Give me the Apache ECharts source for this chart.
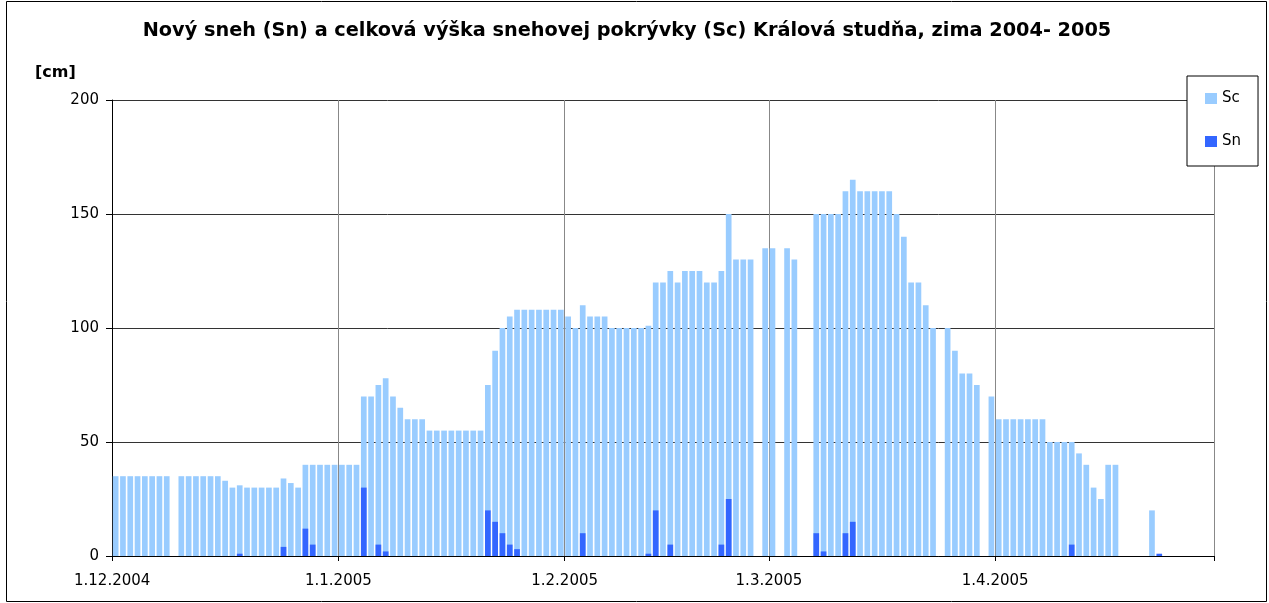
<!DOCTYPE html>
<html>
<head>
<meta charset="utf-8">
<script src="https://cdn.jsdelivr.net/npm/echarts@6/dist/echarts.min.js"></script>
<style>
html,body{margin:0;padding:0;background:#fff;}
#chart{width:1269px;height:603px;}
</style>
</head>
<body>
<div id="chart"></div>
<script>
// Months covered (day counts) and tick labels
const monthDefs = [
  {m: 12, y: 2004, days: 31},
  {m: 1, y: 2005, days: 31},
  {m: 2, y: 2005, days: 28},
  {m: 3, y: 2005, days: 31},
  {m: 4, y: 2005, days: 30}
];
const tickLabels = ['1.12.2004', '1.1.2005', '1.2.2005', '1.3.2005', '1.4.2005'];

// Sc - total snow depth [cm], per day
const scDec = [35,35,35,35,35,35,35,35,null,35,35,35,35,35,35,33,30,31,30,30,30,30,30,34,32,30,40,40,40,40,40];
const scJan = [40,40,40,70,70,75,78,70,65,60,60,60,55,55,55,55,55,55,55,55,75,90,100,105,108,108,108,108,108,108,108];
const scFeb = [105,100,110,105,105,105,100,100,100,100,100,101,120,120,125,120,125,125,125,120,120,125,150,130,130,130,null,135];
const scMar = [135,null,135,130,null,null,150,150,150,150,160,165,160,160,160,160,160,150,140,120,120,110,100,null,100,90,80,80,75,null,70];
const scApr = [60,60,60,60,60,60,60,50,50,50,50,45,40,30,25,40,40,null,null,null,null,20,null,null,null,null,null,null,null,null];

// Sn - new snow [cm], per day
const snDec = [0,0,0,0,0,0,0,0,0,0,0,0,0,0,0,0,0,1,0,0,0,0,0,4,0,0,12,5,0,0,0];
const snJan = [0,0,0,30,0,5,2,0,0,0,0,0,0,0,0,0,0,0,0,0,20,15,10,5,3,0,0,0,0,0,0];
const snFeb = [0,0,10,0,0,0,0,0,0,0,0,1,20,0,5,0,0,0,0,0,0,5,25,0,0,0,0,0];
const snMar = [0,0,0,0,0,0,10,2,0,0,10,15,0,0,0,0,0,0,0,0,0,0,0,0,0,0,0,0,0,0,0];
const snApr = [0,0,0,0,0,0,0,0,0,0,5,0,0,0,0,0,0,0,0,0,0,0,1,0,0,0,0,0,0,0];

const categories = [];
monthDefs.forEach(md => {
  for (let d = 1; d <= md.days; d++) categories.push(d + '.' + md.m + '.' + md.y);
});
const sc = [].concat(scDec, scJan, scFeb, scMar, scApr);
const sn = [].concat(snDec, snJan, snFeb, snMar, snApr).map(v => v === 0 ? null : v);

const FONT = 'DejaVu Sans';
const isTick = (idx, val) => tickLabels.indexOf(val) !== -1;

const chart = echarts.init(document.getElementById('chart'), null, {renderer: 'canvas'});
chart.setOption({
  animation: false,
  backgroundColor: '#fff',
  title: [
    {
      text: 'Nový sneh (Sn) a celková výška snehovej pokrývky (Sc) Králová studňa, zima 2004- 2005',
      left: 627, top: 21, textAlign: 'center', padding: 0,
      textStyle: {fontFamily: FONT, fontSize: 19.3, fontWeight: 'bold', color: '#000'}
    },
    {
      text: '[cm]', left: 35, top: 65, padding: 0,
      textStyle: {fontFamily: FONT, fontSize: 16, fontWeight: 'bold', color: '#000'}
    }
  ],
  legend: {
    orient: 'vertical',
    left: 1187, top: 76,
    data: ['Sc', 'Sn'],
    icon: 'rect',
    itemWidth: 12, itemHeight: 11, itemGap: 28,
    padding: [15, 17, 17, 18],
    borderColor: '#000', borderWidth: 1,
    backgroundColor: '#fff',
    selectedMode: false,
    textStyle: {fontFamily: FONT, fontSize: 15, color: '#000'}
  },
  grid: {left: 112, right: 55, top: 100, bottom: 47, containLabel: false, outerBoundsMode: 'none'},
  xAxis: {
    type: 'category',
    data: categories,
    boundaryGap: true,
    axisLine: {show: true, lineStyle: {color: '#000', width: 1}},
    axisTick: {show: true, interval: isTick, length: 5, lineStyle: {color: '#000'}},
    axisLabel: {interval: isTick, margin: 18, padding: [0, 7, 0, 0], fontFamily: FONT, fontSize: 15, color: '#000'},
    splitLine: {show: true, interval: isTick, lineStyle: {color: '#888', width: 1}}
  },
  yAxis: {
    type: 'value', min: 0, max: 200, interval: 50,
    axisLine: {show: true, lineStyle: {color: '#000', width: 1}},
    axisTick: {show: true, length: 6, lineStyle: {color: '#000'}},
    axisLabel: {margin: 13, fontFamily: FONT, fontSize: 15, color: '#000'},
    splitLine: {show: true, lineStyle: {color: '#333', width: 1}}
  },
  series: [
    {
      name: 'Sc', type: 'bar', data: sc,
      barCategoryGap: '22%', barGap: '-100%',
      itemStyle: {color: '#99CCFF'}
    },
    {
      name: 'Sn', type: 'bar', data: sn,
      barCategoryGap: '22%', barGap: '-100%',
      itemStyle: {color: '#3366FF'}
    }
  ],
  graphic: [
    {
      type: 'rect', z: 100, silent: true,
      shape: {x: 6.5, y: 1.5, width: 1260, height: 600},
      style: {fill: 'none', stroke: '#000', lineWidth: 1}
    }
  ]
});
</script>
</body>
</html>
